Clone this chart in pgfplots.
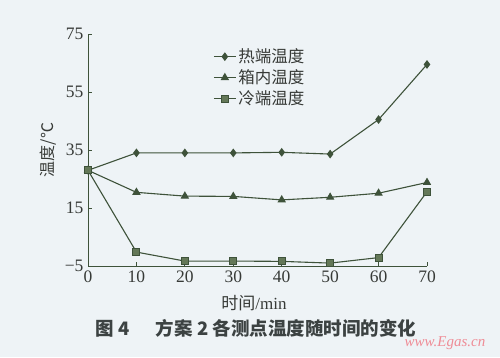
\documentclass[border=0pt]{standalone}
\usepackage{pgfplots}
\pgfplotsset{compat=1.18}
\usepackage{fontspec}
\setmainfont{Liberation Serif}
\newfontfamily\cjk{Noto Sans CJK SC}
\definecolor{bg}{RGB}{238,243,246}
\definecolor{ln}{RGB}{62,82,58}
\definecolor{sqf}{RGB}{100,120,88}
\definecolor{tx}{RGB}{55,58,55}
\definecolor{cap}{RGB}{60,66,66}
\definecolor{wm}{RGB}{238,140,150}
\begin{document}
\begin{tikzpicture}[x=1pt,y=1pt]
\fill[bg] (0pt,0pt) rectangle (500pt,357pt);
\begin{axis}[at={(88pt,91pt)}, anchor=south west, scale only axis,
  width=339pt, height=232pt,
  xmin=0, xmax=70, ymin=-5, ymax=75,
  axis lines=left, axis line style={-, ln, line width=0.9pt},
  xtick={0,10,...,70}, ytick={-5,15,35,55,75},
  yticklabels={−5,15,35,55,75},
  tick align=inside, major tick length=4pt,
  tick style={ln, line width=0.9pt},
  ticklabel style={font=\fontsize{17.5}{20}\selectfont, text=tx},
  yticklabel style={xshift=-1pt},
  xticklabel style={yshift=-1.5pt},
  /pgf/number format/assume math mode=true,
  legend style={draw=none, fill=none, at={(0.369,0.945)}, anchor=north west,
    font=\cjk\fontsize{16.5}{19}\selectfont, text=tx, row sep=1.5pt, inner sep=0pt},
  legend cell align=left,
  legend image code/.code={\draw[mark repeat=2,mark phase=2] plot coordinates {(0pt,0pt) (11pt,0pt) (22pt,0pt)};},
  clip=false]
\addplot[ln, line width=1.1pt, mark=diamond*, mark size=3.5pt, mark options={fill=ln, solid}]
  coordinates {(0,28) (10,34) (20,34) (30,34) (40,34.2) (50,33.6) (60,45.5) (70,64.5)};
\addlegendentry{热端温度}
\addplot[ln, line width=1.1pt, mark=triangle*, mark size=3.8pt, mark options={fill=ln, solid}]
  coordinates {(0,28) (10,20.4) (20,19.1) (30,19) (40,17.8) (50,18.7) (60,20.1) (70,23.8)};
\addlegendentry{箱内温度}
\addplot[ln, line width=1.1pt, mark=square*, mark size=3.5pt, mark options={fill=sqf, draw=ln, solid}]
  coordinates {(0,28) (10,-0.2) (20,-3.3) (30,-3.3) (40,-3.4) (50,-4) (60,-2.1) (70,20.6)};
\addlegendentry{冷端温度}
\end{axis}
\node[rotate=90, text=tx, font=\cjk\fontsize{16}{19}\selectfont] at (48.5pt,207pt) {温度/℃};
\node[text=tx, font=\fontsize{17}{20}\selectfont] at (254pt,54pt) {{\cjk 时间}/min};
\node[text=cap, font=\cjk\bfseries\fontsize{18.5}{22}\selectfont] at (256pt,29pt) {图 4\hspace{1.4em}方案 2 各测点温度随时间的变化};
\node[text=wm, font=\itshape\fontsize{15}{18}\selectfont] at (445pt,14pt) {www.Egas.cn};
\end{tikzpicture}
\end{document}
